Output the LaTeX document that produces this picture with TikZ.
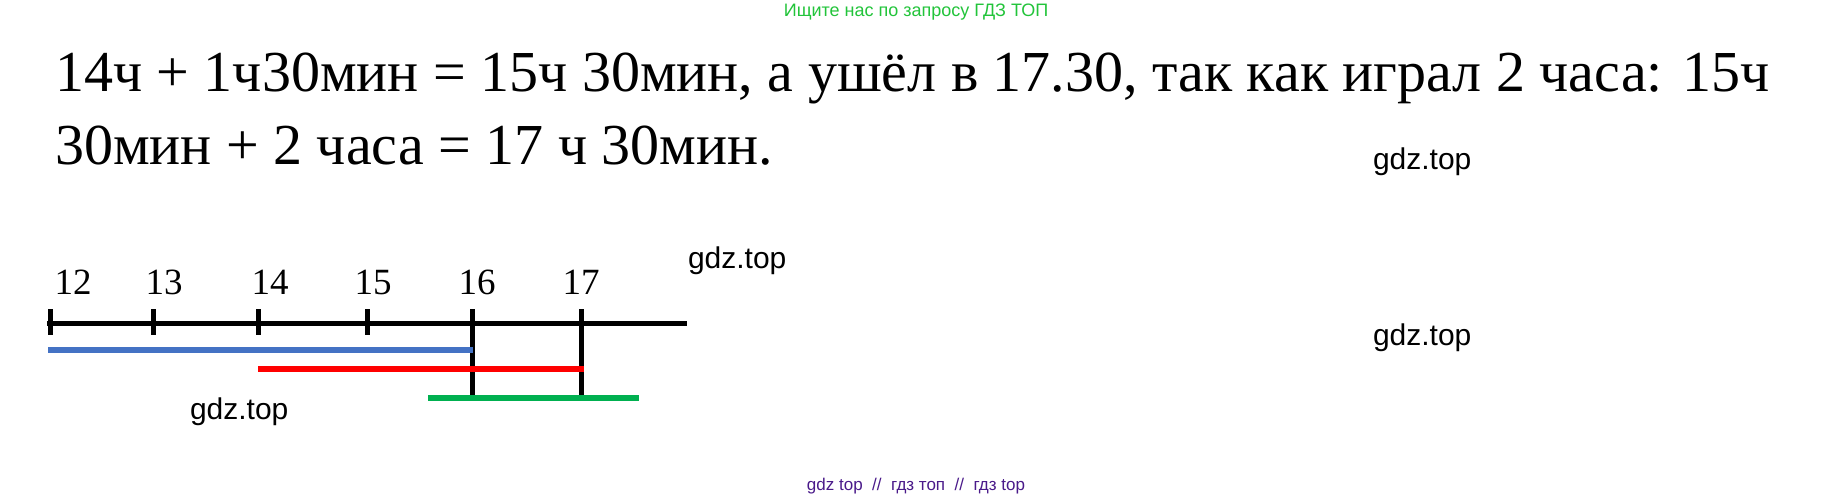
\documentclass[tikz,border=0pt]{standalone}
\usepackage{fontspec}
\setmainfont{Liberation Serif}
\newfontfamily\wmfont{Liberation Sans}
\definecolor{hdrgreen}{HTML}{22C43A}
\definecolor{wmpurple}{HTML}{4A1A8A}
\definecolor{lblue}{HTML}{4472C4}
\definecolor{lred}{HTML}{FF0000}
\definecolor{lgreen}{HTML}{00B050}
\begin{document}
\begin{tikzpicture}[x=1pt,y=-1pt,
  txt/.style={inner sep=0pt,outer sep=0pt,anchor=base west},
  maintext/.style={txt,font=\fontsize{58}{70}\selectfont},
  hourlbl/.style={inner sep=0pt,outer sep=0pt,anchor=base,font=\fontsize{37}{44}\selectfont},
  wm/.style={txt,font=\wmfont\fontsize{30}{36}\selectfont},
  axisline/.style={line width=5pt,black},
  tickline/.style={line width=5pt,black},
  seg/.style={line width=6pt}]
\useasboundingbox (0,0) rectangle (1834,497);
\fill[white] (0,0) rectangle (1834,497);
% header
\node[inner sep=0pt,anchor=base,font=\wmfont\fontsize{18}{22}\selectfont,text=hdrgreen] (hdr) at (916,17) {Ищите нас по запросу ГДЗ ТОП};
% main text
\node[maintext] (l1) at (55,92) {14ч + 1ч30мин = 15ч 30мин, а ушёл в 17.30, так как играл 2 часа: 15ч};
\node[maintext] (l2) at (55,165) {30мин + 2 часа = 17 ч 30мин.};
% watermarks
\node[wm] (w1) at (1373,170) {gdz.top};
\node[wm] (w2) at (688,269) {gdz.top};
\node[wm] (w3) at (1373,345) {gdz.top};
\node[wm] (w4) at (190,419) {gdz.top};
\node[inner sep=0pt,anchor=base,font=\wmfont\fontsize{17}{20}\selectfont,text=wmpurple] (bot) at (916,490) {gdz top\ \ //\ \ гдз топ\ \ //\ \ гдз top};
% axis
\coordinate (a0) at (47,323);
\coordinate (a1) at (687,323);
\foreach \n/\x/\lx in {12/50/73,13/153/164,14/258/270,15/367/373,16/472/477,17/581/581}{
  \coordinate (t\n) at (\x,323);
  \coordinate (tt\n) at (\x,309);
  \coordinate (tb\n) at (\x,335);
  \node[hourlbl] (h\n) at (\lx,294) {\n};
}
\draw[axisline] (a0) -- (a1);
\foreach \n in {12,13,14,15}{\draw[tickline] (tt\n) -- (tb\n);}
% long verticals at 16 and 17
\coordinate (v16) at (472,401);
\coordinate (v17) at (581,401);
\draw[tickline] (tt16) -- (v16);
\draw[tickline] (tt17) -- (v17);
% coloured segments
\coordinate (b0) at (48,350); \coordinate (b1) at (473,350);
\coordinate (r0) at (258,369); \coordinate (r1) at (584,369);
\coordinate (g0) at (428,398); \coordinate (g1) at (639,398);
\draw[seg,lblue] (b0) -- (b1);
\draw[seg,lred] (r0) -- (r1);
\draw[seg,lgreen] (g0) -- (g1);
\end{tikzpicture}
\end{document}
